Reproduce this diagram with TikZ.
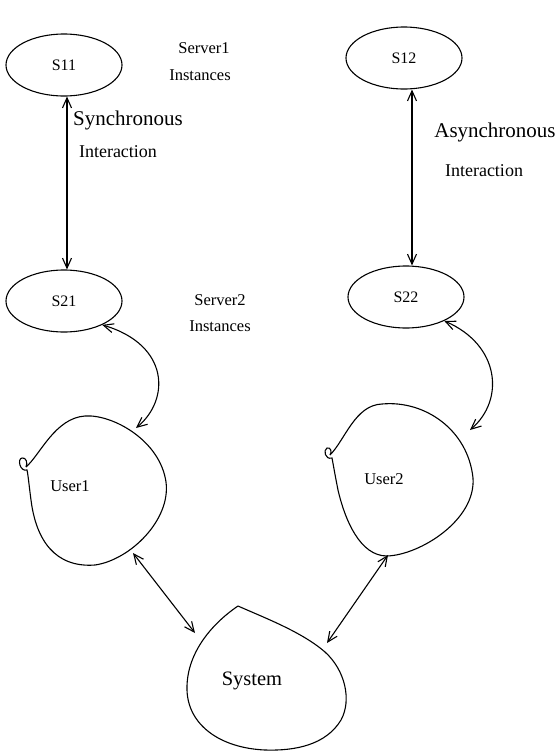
\documentclass[tikz,border=0pt]{standalone}
\usepackage{fontspec}
\setmainfont{Liberation Serif}
\usetikzlibrary{arrows.meta,shapes.geometric}
\begin{document}
\begin{tikzpicture}[x=1pt,y=-1pt,
  line width=1.1pt,
  inst/.style={draw,ellipse,minimum width=116pt,minimum height=62pt,font=\fontsize{16}{18}\selectfont},
  lbl/.style={inner sep=0pt,font=\fontsize{16.5}{18}\selectfont},
  midlbl/.style={inner sep=0pt,font=\fontsize{18}{20}\selectfont},
  biglbl/.style={inner sep=0pt,font=\fontsize{21}{24}\selectfont},
  link/.style={{Straight Barb[length=10pt,width=9pt]}-{Straight Barb[length=10pt,width=9pt]}}]
\useasboundingbox (0,0) rectangle (556,753);

% server instances
\node[inst] (s11) at (64,65) {S11};
\node[inst] (s12) at (404,58) {S12};
\node[inst] (s21) at (64,301) {S21};
\node[inst] (s22) at (406,297) {S22};

% side labels
\node[lbl] (srv1) at (204,48) {Server1};
\node[lbl] (ins1) at (200,75) {Instances};
\node[lbl] (srv2) at (220,300) {Server2};
\node[lbl] (ins2) at (220,326) {Instances};
\node[biglbl] (sync) at (128,120) {Synchronous};
\node[midlbl] (int1) at (118,152) {Interaction};
\node[biglbl] (async) at (495,132) {Asynchronous};
\node[midlbl] (int2) at (484,171) {Interaction};

% user blobs
\draw (26,467) .. controls (40,455) and (55,418) .. (85,416)
  .. controls (112,414) and (160,440) .. (166,482)
  .. controls (171,520) and (130,560) .. (95,565)
  .. controls (55,568) and (36,540) .. (31,500)
  .. controls (29,485) and (28,474) .. (27,470)
  .. controls (20,472) and (17,459) .. (22,458)
  .. controls (26,457) and (28,463) .. (26,467);
\node[lbl] (u1) at (70,486) {User1};
\coordinate (u1top) at (136,428);
\coordinate (u1bot) at (133,553);

\draw (330,455) .. controls (345,440) and (355,405) .. (382,404)
  .. controls (425,400) and (468,430) .. (473,478)
  .. controls (476,520) and (420,555) .. (387,556)
  .. controls (360,556) and (345,520) .. (338,490)
  .. controls (335,475) and (333,463) .. (332,458)
  .. controls (325,460) and (323,450) .. (327,448)
  .. controls (331,447) and (332,452) .. (330,455);
\node[lbl] (u2) at (384,479) {User2};
\coordinate (u2top) at (470,430);
\coordinate (u2bot) at (388,555);

% system blob, pointed at the top
\draw (238,606) .. controls (265,618) and (302,632) .. (325,652)
  .. controls (345,670) and (352,700) .. (341,720)
  .. controls (326,745) and (295,751) .. (265,750)
  .. controls (220,748) and (188,725) .. (187,690)
  .. controls (186,655) and (210,625) .. (238,606);
\node[font=\fontsize{20.5}{24}\selectfont,inner sep=0pt] (sys) at (252,681) {System};
\coordinate (sysl) at (195,633);
\coordinate (sysr) at (327,643);

% interactions
\draw[link] (s11.south -| 67,0) -- (s21.north -| 67,0);
\draw[link] (s12.south -| 412,0) -- (s22.north -| 412,0);
\draw[link] (s21.-32) .. controls (170,345) and (170,400) .. (u1top);
\draw[link] (s22.-32) .. controls (500,345) and (505,400) .. (u2top);
\draw[link] (u1bot) -- (sysl);
\draw[link] (sysr) -- (u2bot);
\end{tikzpicture}
\end{document}
